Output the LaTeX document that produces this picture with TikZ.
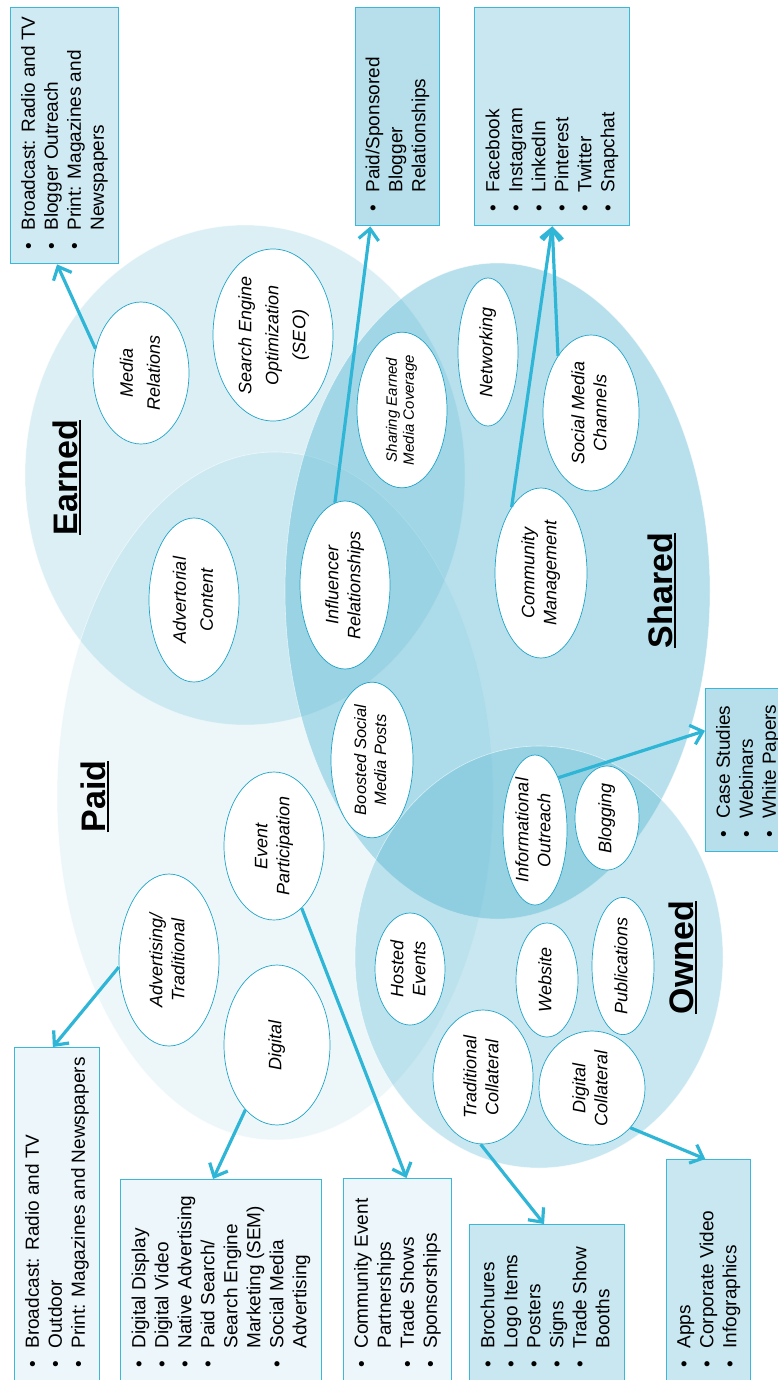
\documentclass[tikz,border=0pt]{standalone}
\usepackage{fontspec}
\setmainfont{Liberation Sans}
\usepackage{tikz}
\usetikzlibrary{shapes.geometric,calc}
\usetikzlibrary{arrows.meta}
\tikzset{>={Straight Barb[length=11pt,width=20pt]}}
\definecolor{venn}{HTML}{4BB1CF}
\definecolor{arrowblue}{HTML}{2FB6D6}
\definecolor{rimblue}{HTML}{1EA4C8}
\definecolor{frameblue}{HTML}{3BB8D8}
\definecolor{earnbox}{HTML}{D0EAF3}
\definecolor{sharebox}{HTML}{B6DFEB}
\definecolor{ownbox}{HTML}{C8E7F1}
\definecolor{paidbox}{HTML}{EDF6FB}

%% turned texts
\newcommand\rt[1]{\rotatebox{90}{\begin{tabular}{@{}c@{}}#1\end{tabular}}}
\newcommand\blist[2]{\rotatebox{90}{\makebox[\dimexpr#1pt-29pt\relax][l]{%
  \begin{tabular}{@{}l@{\hspace{12pt}}l@{}}#2\end{tabular}}}}
\newcommand\ttlu[1]{\setbox0=\hbox{#1}\rlap{\rule[-3.5pt]{\wd0}{1.6pt}}\box0}
\newcommand\dotitem{\textbullet}

\tikzset{
  circ/.style={fill=venn, fill opacity=#1, draw=white, draw opacity=.6, line width=.6pt},
  bub/.style 2 args={ellipse, draw=rimblue, line width=.7pt, fill=white, inner sep=0pt,
    minimum width=2*#1, minimum height=2*#2, font=\fontsize{18}{22}\selectfont\itshape},
  wide/.style={font=\fontsize{18}{27}\selectfont\itshape},
  lst/.style n args={3}{draw=frameblue, line width=1.4pt, fill=#3, inner sep=0pt,
    anchor=north west, minimum width=#1, minimum height=#2, font=\fontsize{19}{23}\selectfont},
  ttl/.style={inner sep=0pt, font=\fontsize{34}{40}\selectfont\bfseries},
  arr/.style={draw=arrowblue, line width=3.2pt, ->},
}

\begin{document}
\begin{tikzpicture}[x=1pt, y=-1pt]

\useasboundingbox (0,0) rectangle (778,1380);
\clip (0,0) rectangle (778,1380);

%% the four fields
\path[circ=.2] (245,475) ellipse [x radius=220, y radius=250];
\path[circ=.1] (275,796) ellipse [x radius=218, y radius=344];
\path[circ=.4] (497.5,591) ellipse [x radius=212.5, y radius=328];
\path[circ=.3] (539,957) ellipse [x radius=184, y radius=211];

\node[ttl] (earned) at (67,477.5) {\rotatebox{90}{\ttlu{Earned}}};
\node[ttl] (paid) at (95,796.5) {\rotatebox{90}{\ttlu{Paid}}};
\node[ttl] (shared) at (662,590.5) {\rotatebox{90}{\ttlu{Shared}}};
\node[ttl] (owned) at (683,957.5) {\rotatebox{90}{\ttlu{Owned}}};

%% lists
\node[lst={108}{256}{earnbox}] (bx1) at (10,7) {\blist{256}{\dotitem & Broadcast: Radio and TV\\
  \dotitem & Blogger Outreach\\ \dotitem & Print: Magazines and\\ & Newspapers}};
\node[lst={84}{218}{sharebox}] (bx2) at (355,7) {\blist{218}{\dotitem & Paid/Sponsored\\
  & Blogger\\ & Relationships}};
\node[lst={155}{218}{ownbox}] (bx3) at (474,7) {\blist{218}{\dotitem & Facebook\\
  \dotitem & Instagram\\ \dotitem & LinkedIn\\ \dotitem & Pinterest\\ \dotitem & Twitter\\
  \dotitem & Snapchat}};
\node[lst={85}{163}{sharebox}] (bx4) at (705,688) {\blist{163}{\dotitem & Case Studies\\
  \dotitem & Webinars\\ \dotitem & White Papers}};
\node[lst={85}{334}{paidbox}] (bx5) at (14,1047) {\blist{334}{\dotitem & Broadcast: Radio and TV\\
  \dotitem & Outdoor\\ \dotitem & Print: Magazines and Newspapers}};
\node[lst={201}{202}{paidbox}] (bx6) at (120,1179) {\blist{202}{\dotitem & Digital Display\\
  \dotitem & Digital Video\\ \dotitem & Native Advertising\\ \dotitem & Paid Search/\\
  & Search Engine\\ & Marketing (SEM)\\ \dotitem & Social Media\\ & Advertising}};
\node[lst={108}{203}{paidbox}] (bx7) at (343,1178) {\blist{203}{\dotitem & Community Event\\
  & Partnerships\\ \dotitem & Trade Shows\\ \dotitem & Sponsorships}};
\node[lst={155}{157}{ownbox}] (bx8) at (469,1224) {\blist{157}{\dotitem & Brochures\\
  \dotitem & Logo Items\\ \dotitem & Posters\\ \dotitem & Signs\\ \dotitem & Trade Show\\
  & Booths}};
\node[lst={84}{222}{ownbox}] (bx9) at (666,1159) {\blist{222}{\dotitem & Apps\\
  \dotitem & Corporate Video\\ \dotitem & Infographics}};

%% tactics
\node[bub={48}{71}, wide] (mr) at (141,373) {\rt{Media\\Relations}};
\node[bub={60}{86}, wide] (seo) at (273,335) {\rt{Search Engine\\Optimization\\(SEO)}};
\node[bub={45}{75}, font=\fontsize{15}{17}\selectfont\itshape] (sem) at (402,410)
  {\rt{Sharing Earned\\Media Coverage}};
\node[bub={30}{74}] (nw) at (488,352) {\rt{Networking}};
\node[bub={48}{78}] (smc) at (591,413) {\rt{Social Media\\Channels}};
\node[bub={45}{82}, wide] (ac) at (194,600) {\rt{Advertorial\\Content}};
\node[bub={45}{84}] (ir) at (345,585) {\rt{Influencer\\Relationships}};
\node[bub={46}{85}] (cm) at (541,573) {\rt{Community\\Management}};
\node[bub={41}{64}, font=\fontsize{16.5}{20}\selectfont\itshape] (bs) at (372,760)
  {\rt{Boosted Social\\Media Posts}};
\node[bub={50}{74}] (ep) at (274,846) {\rt{Event\\Participation}};
\node[bub={32}{75}] (io) at (535,830) {\rt{Informational\\Outreach}};
\node[bub={32}{52}] (blg) at (607,818) {\rt{Blogging}};
\node[bub={50}{86}] (at) at (169,960) {\rt{Advertising/\\Traditional}};
\node[bub={53}{80}] (dg) at (277,1045) {\rt{Digital}};
\node[bub={35}{56}] (he) at (410,969) {\rt{Hosted\\Events}};
\node[bub={31}{57}] (ws) at (547,980) {\rt{Website}};
\node[bub={31}{57}] (pb) at (623,966) {\rt{Publications}};
\node[bub={50}{67}] (tc) at (483,1077) {\rt{Traditional\\Collateral}};
\node[bub={53}{57}] (dc) at (592,1088) {\rt{Digital\\Collateral}};

%% links
\draw[arr] (mr.152) -- ($(bx1.south west)!.43!(bx1.south east)$);
\draw[arr] (ir.97) -- ($(bx2.south west)!.18!(bx2.south east)$);
\draw[arr] (cm.114) -- (bx3.south);
\draw[arr] (smc.120) -- (bx3.south);
\draw[arr] (io.66) -- ($(bx4.north west)!.26!(bx4.south west)$);
\draw[arr] (at.188) -- ($(bx5.north west)!.45!(bx5.north east)$);
\draw[arr] (dg.244) -- ($(bx6.north west)!.46!(bx6.north east)$);
\draw[arr] (ep.294) -- ($(bx7.north west)!.58!(bx7.north east)$);
\draw[arr] (tc.268) -- ($(bx8.north west)!.48!(bx8.north east)$);
\draw[arr] (dc.314) -- ($(bx9.north west)!.46!(bx9.north east)$);

\end{tikzpicture}
\end{document}
